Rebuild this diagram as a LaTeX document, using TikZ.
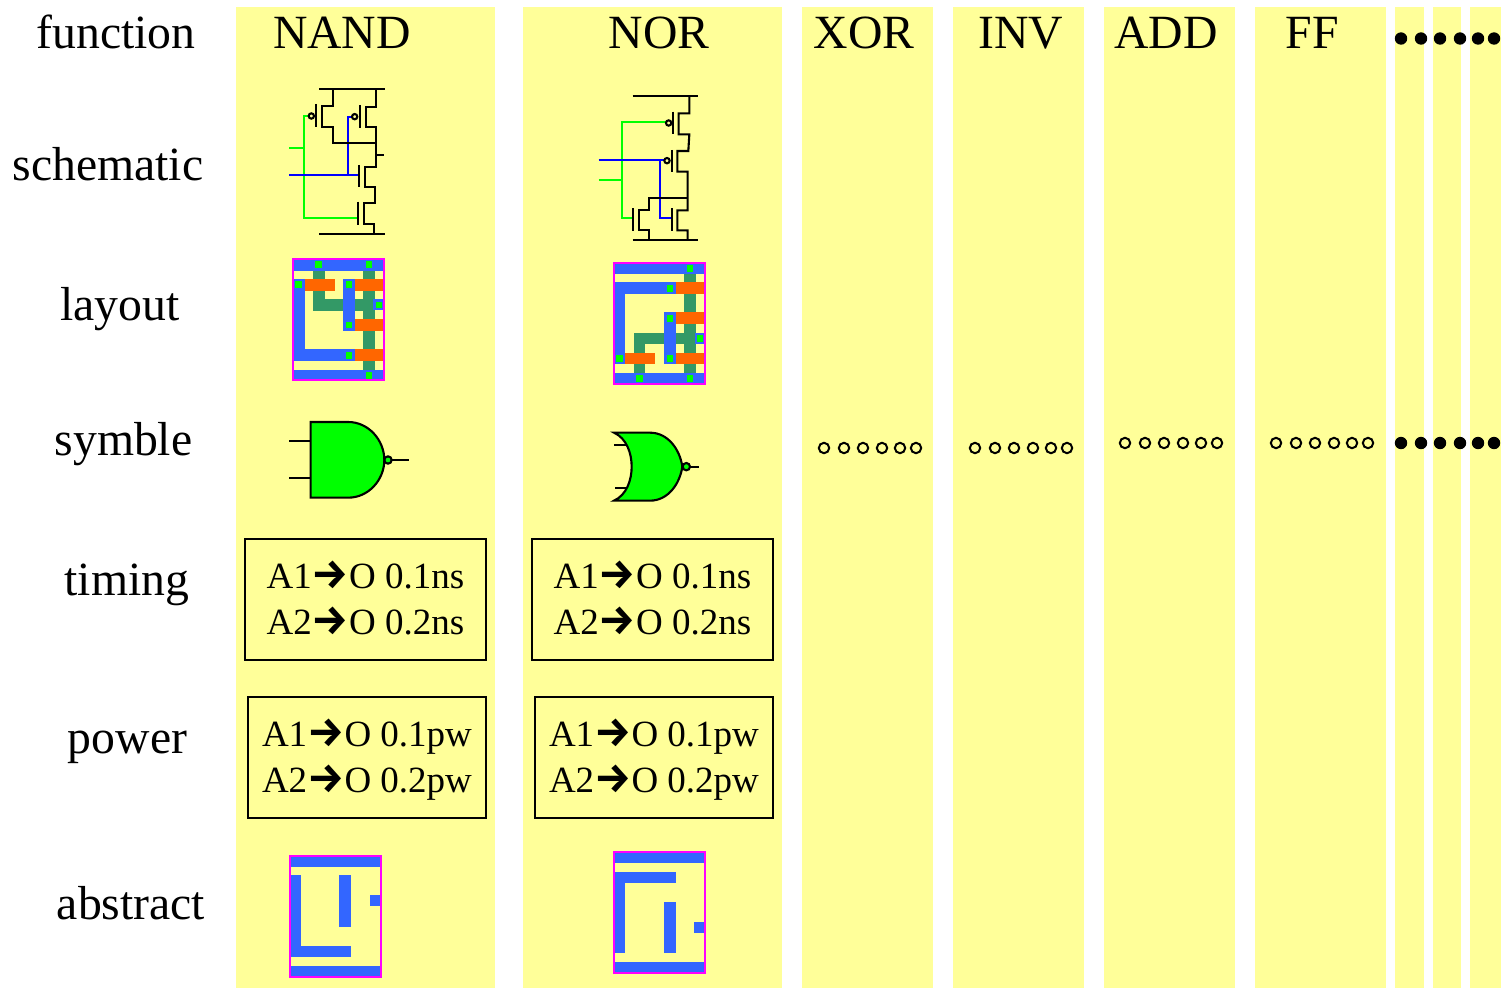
\documentclass[tikz,border=0pt]{standalone}
\usepackage{fontspec}
\setmainfont{Liberation Serif}
\newfontfamily\arrowfont[Scale=1.12]{Fira Sans}
\newcommand{\arrowto}{{\arrowfont\bfseries →}}
\newcommand{\topstrut}{\rule{0pt}{35pt}}
\newcommand{\botstrut}{\rule[-12pt]{0pt}{12pt}}
\definecolor{column}{HTML}{FFFF99}
\definecolor{metal}{HTML}{3366FF}
\definecolor{poly}{HTML}{339966}
\definecolor{diff}{HTML}{FF6600}
\definecolor{magenta}{HTML}{FF00FF}
\definecolor{gatefill}{HTML}{00FF00}
\begin{document}
\begin{tikzpicture}[x=1pt,y=-1pt,
    title/.style={anchor=base, inner sep=0pt, font=\fontsize{47.7}{48}\selectfont},
    delay box/.style={draw, line width=1.5pt, inner sep=0pt, align=center, minimum height=121pt, font=\fontsize{37}{46}\selectfont},
    wire/.style={line width=2.1pt},
    green wire/.style={wire, draw=gatefill},
    blue wire/.style={wire, draw=blue},
    bubble/.style={wire, draw=black, fill=column},
    gate/.style={wire, draw=black, fill=gatefill},
    zoomed/.style={x=0.3333pt, y=-0.3333pt},
    cell edge/.style={draw=magenta, line width=2pt}]
  \useasboundingbox (0,0) rectangle (1501,988);

  % columns
  \foreach \a/\b in {236/495, 523/782, 802/933, 953/1084, 1104/1235, 1255/1386, 1395/1424, 1433/1461, 1470/1501}
    \fill[column] (\a,6.5) rectangle (\b,988);

  % row names
  \node[title] (function) at (116,48) {function};
  \node[title] (schematic) at (108,180) {schematic};
  \node[title] (layout) at (120,320) {layout};
  \node[title] (symble) at (123.5,455) {symble};
  \node[title] (timing) at (127,595) {timing};
  \node[title] (power) at (127.5,753) {power};
  \node[title] (abstract) at (131,919) {abstract};

  % column names
  \node[title] (nand) at (342,48) {NAND};
  \node[title] (nor) at (659,48) {NOR};
  \node[title] (xor) at (864,48) {XOR};
  \node[title] (inv) at (1021,48) {INV};
  \node[title] (add) at (1166,48) {ADD};
  \node[title] (ff) at (1312,48) {FF};

  % delay and power tables
  \node[delay box, minimum width=241pt] (nand timing) at (365.5,599.5) {\topstrut A1\arrowto O 0.1ns\\\botstrut A2\arrowto O 0.2ns};
  \node[delay box, minimum width=238pt] (nand power) at (367,757.5) {\topstrut A1\arrowto O 0.1pw\\\botstrut A2\arrowto O 0.2pw};
  \node[delay box, minimum width=241pt] (nor timing) at (652.5,599.5) {\topstrut A1\arrowto O 0.1ns\\\botstrut A2\arrowto O 0.2ns};
  \node[delay box, minimum width=238pt] (nor power) at (654,757.5) {\topstrut A1\arrowto O 0.1pw\\\botstrut A2\arrowto O 0.2pw};

  % dots
  \foreach \x/\y in {824/448, 975/448, 1125/443, 1276/443}
    \foreach \d in {0,20,39,58,76,92}
      \draw[line width=2pt] (\x+\d,\y) circle (5.2);
  \foreach \y in {38.5,443}
    \foreach \d in {0,20,39,59,77,93}
      \fill (1401+\d,\y) circle (6.2);

  % NAND schematic
  \begin{scope}[shift={(270,80)},zoomed]
    \draw[green wire] (115,108) -- (103,108) -- (103,413) -- (265,413);
    \draw[green wire] (58,205) -- (103,205);
    \draw[blue wire] (58,285) -- (270,285);
    \draw[blue wire] (233,285) -- (233,110) -- (245,110);
    \draw[wire] (148,27) -- (345,27);
    \draw[wire] (148,462) -- (345,462);
    \draw[wire] (188,27) -- (188,78) -- (155,78) -- (155,140) -- (188,140) -- (188,188) -- (318,188);
    \draw[wire] (318,27) -- (318,80) -- (287,80) -- (287,140) -- (318,140) -- (318,260) -- (285,260) -- (285,320) -- (315,320) -- (315,370) -- (282,370) -- (282,432) -- (312,432) -- (312,462);
    \draw[wire] (318,225) -- (342,225);
    \draw[wire] (138,72) -- (138,142);
    \draw[wire] (270,75) -- (270,145);
    \draw[wire] (268,255) -- (268,322);
    \draw[wire] (265,365) -- (265,435);
    \draw[bubble] (124,108) circle (8);
    \draw[bubble] (254,110) circle (8);
  \end{scope}

  % NOR schematic
  \begin{scope}[shift={(590,85)},zoomed]
    \draw[green wire] (228,112) -- (95,112) -- (95,398) -- (130,398);
    \draw[green wire] (26,285) -- (95,285);
    \draw[blue wire] (26,224) -- (222,224);
    \draw[blue wire] (209,224) -- (209,398) -- (245,398);
    \draw[wire] (128,32) -- (325,32);
    \draw[wire] (128,466) -- (325,466);
    \draw[wire] (298,32) -- (298,85) -- (266,85) -- (266,148) -- (298,148) -- (295,198) -- (262,198) -- (262,260) -- (293,260) -- (293,376) -- (262,376) -- (262,436) -- (293,436) -- (293,466);
    \draw[wire] (293,340) -- (176,340) -- (176,374) -- (146,374) -- (146,436) -- (176,436) -- (176,466);
    \draw[wire] (250,80) -- (250,148);
    \draw[wire] (247,195) -- (247,262);
    \draw[wire] (130,370) -- (130,438);
    \draw[wire] (245,370) -- (245,438);
    \draw[bubble] (236,114) circle (8);
    \draw[bubble] (231,227) circle (8);
  \end{scope}

  % NAND layout
  \begin{scope}[shift={(280,250)},zoomed]
    \foreach \a/\b/\c/\d in {100/62/134/182, 100/148/285/182, 250/62/285/360}
      \fill[poly] (\a,\b) rectangle (\c,\d);
    \foreach \a/\b/\c/\d in {75/87/164/122, 225/87/313/122, 225/208/313/242, 225/298/313/333}
      \fill[diff] (\a,\b) rectangle (\c,\d);
    \foreach \a/\b/\c/\d in {40/30/313/62, 40/360/313/390, 40/87/75/333, 40/298/225/333, 190/87/225/242, 280/148/313/180}
      \fill[metal] (\a,\b) rectangle (\c,\d);
    \foreach \x/\y in {116/44, 267/44, 56/104, 207/104, 297/165, 207/225, 207/316, 267/376}
      \fill[gatefill] (\x-10,\y-10) rectangle (\x+10,\y+10);
    \draw[cell edge] (40,28) rectangle (313,390);
  \end{scope}

  % NOR layout
  \begin{scope}[shift={(600,255)},zoomed]
    \foreach \a/\b/\c/\d in {252/56/288/354, 102/234/288/268, 102/234/136/354}
      \fill[poly] (\a,\b) rectangle (\c,\d);
    \foreach \a/\b/\c/\d in {228/82/316/118, 228/172/316/208, 228/294/316/328, 76/294/166/328}
      \fill[diff] (\a,\b) rectangle (\c,\d);
    \foreach \a/\b/\c/\d in {43/26/316/56, 43/354/316/387, 43/82/228/118, 43/82/76/328, 192/172/228/328, 284/234/316/266}
      \fill[metal] (\a,\b) rectangle (\c,\d);
    \foreach \x/\y in {270/40, 210/100, 210/190, 300/251, 59/311, 210/311, 119/371, 270/371}
      \fill[gatefill] (\x-10,\y-10) rectangle (\x+10,\y+10);
    \draw[cell edge] (43,24) rectangle (316,387);
  \end{scope}

  % NAND symbol
  \begin{scope}[shift={(280,410)},zoomed]
    \draw[wire] (28,92) -- (92,92);
    \draw[wire] (28,205) -- (92,205);
    \draw[wire] (335,150) -- (388,150);
    \draw[gate] (92,36) -- (205,36) .. controls (265,36) and (313,90) .. (313,150) .. controls (313,210) and (265,263) .. (205,263) -- (92,263) -- cycle;
    \draw[gate] (324,150) circle (11);
  \end{scope}

  % NOR symbol
  \begin{scope}[shift={(600,420)},zoomed]
    \draw[wire] (42,74) -- (85,74);
    \draw[wire] (45,205) -- (85,205);
    \draw[wire] (270,140) -- (298,140);
    \draw[gate] (42,38) -- (150,38) .. controls (205,38) and (240,90) .. (247,140) .. controls (240,190) and (205,242) .. (150,242) -- (42,242) .. controls (80,225) and (95,180) .. (95,140) .. controls (95,100) and (80,55) .. (42,38) -- cycle;
    \draw[gate] (259,140) circle (11);
  \end{scope}

  % NAND abstract
  \begin{scope}[shift={(280,845)},zoomed]
    \foreach \a/\b/\c/\d in {30/35/302/65, 30/362/302/392, 30/90/62/335, 30/302/213/335, 178/90/213/245, 269/150/302/183}
      \fill[metal] (\a,\b) rectangle (\c,\d);
    \draw[cell edge] (30,32) rectangle (302,395);
  \end{scope}

  % NOR abstract
  \begin{scope}[shift={(605,845)},zoomed]
    \foreach \a/\b/\c/\d in {27/22/300/53, 27/350/300/381, 27/80/212/114, 27/80/61/325, 177/170/212/325, 268/232/300/265}
      \fill[metal] (\a,\b) rectangle (\c,\d);
    \draw[cell edge] (27,20) rectangle (300,383);
  \end{scope}
\end{tikzpicture}
\end{document}
